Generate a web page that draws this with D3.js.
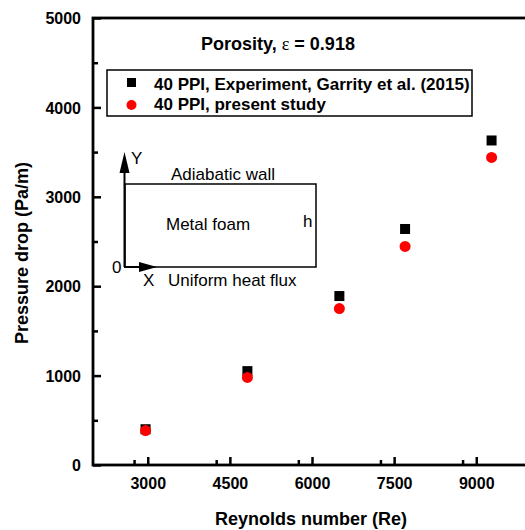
<!DOCTYPE html>
<html>
<head>
<meta charset="utf-8">
<script src="https://cdn.jsdelivr.net/npm/d3@7"></script>
<style>
  body { margin: 0; background: #fff; }
  text { font-family: "Liberation Sans", Arial, sans-serif; }
</style>
</head>
<body>
<div id="chart"></div>
<script>
// data
let reynolds = [2960, 4820, 6500, 7700, 9280];
let experiment = [400, 1050, 1890, 2640, 3630];
let present = [385, 980, 1750, 2445, 3440];
let xTicks = [3000, 4500, 6000, 7500, 9000];
let yTicks = [0, 1000, 2000, 3000, 4000, 5000];
let seriesNames = ["40 PPI, Experiment, Garrity et al. (2015)", "40 PPI, present study"];

let width = 525, height = 530;
let plotLeft = 93, plotTop = 18, plotRight = 531, plotBottom = 465;

var svg = d3.select("#chart").append("svg")
    .attr("width", width)
    .attr("height", height);

let x = d3.scaleLinear().domain([2000, 10000]).range([plotLeft, plotRight]);
let y = d3.scaleLinear().domain([0, 5000]).range([plotBottom, plotTop]);

// frame
svg.append("rect")
    .attr("x", plotLeft).attr("y", plotTop)
    .attr("width", plotRight - plotLeft).attr("height", plotBottom - plotTop)
    .attr("fill", "none").attr("stroke", "black").attr("stroke-width", 2.8);

// axes, ticks pointing inward
let xAxis = svg.append("g")
    .attr("transform", "translate(0," + plotBottom + ")")
    .call(d3.axisBottom(x).tickValues(xTicks).tickSize(-8).tickFormat(d3.format("d")));
let xMinor = svg.append("g")
    .attr("transform", "translate(0," + plotBottom + ")")
    .call(d3.axisBottom(x).tickValues(d3.range(2750, 10000, 1500)).tickSize(-5).tickFormat(""));
let yAxis = svg.append("g")
    .attr("transform", "translate(" + plotLeft + ",0)")
    .call(d3.axisLeft(y).tickValues(yTicks).tickSize(-8).tickFormat(d3.format("d")));
let yMinor = svg.append("g")
    .attr("transform", "translate(" + plotLeft + ",0)")
    .call(d3.axisLeft(y).tickValues(d3.range(500, 5000, 1000)).tickSize(-5).tickFormat(""));

[xAxis, xMinor, yAxis, yMinor].forEach(function (g) {
    g.select(".domain").remove();
    g.selectAll(".tick line").attr("stroke", "black").attr("stroke-width", 2.5);
    g.selectAll(".tick text")
        .attr("fill", "black")
        .style("font-size", "16px")
        .style("font-weight", "bold")
        .style("font-family", "Liberation Sans, Arial, sans-serif");
});
xAxis.selectAll(".tick text").attr("y", 24).attr("dy", 0);
yAxis.selectAll(".tick text").attr("x", -12).attr("dy", "0.36em");

// axis titles
svg.append("text")
    .attr("x", 311).attr("y", 525)
    .attr("text-anchor", "middle")
    .style("font-size", "18px").style("font-weight", "bold")
    .text("Reynolds number (Re)");
svg.append("text")
    .attr("transform", "translate(28,253) rotate(-90)")
    .attr("text-anchor", "middle")
    .style("font-size", "18px").style("font-weight", "bold")
    .text("Pressure drop (Pa/m)");

// title inside plot, epsilon in a serif face like the original
let title = svg.append("text")
    .attr("x", 278).attr("y", 50)
    .attr("text-anchor", "middle")
    .style("font-size", "18px").style("font-weight", "bold");
title.append("tspan").text("Porosity, ");
title.append("tspan")
    .style("font-family", "Liberation Serif, serif")
    .style("font-weight", "normal")
    .text("\u03b5");
title.append("tspan").text(" = 0.918");

// legend
svg.append("rect")
    .attr("x", 107).attr("y", 70).attr("width", 365).attr("height", 46)
    .attr("fill", "white").attr("stroke", "black").attr("stroke-width", 1.5);
svg.append("rect")
    .attr("x", 127).attr("y", 78).attr("width", 9).attr("height", 9)
    .attr("fill", "black");
svg.append("circle")
    .attr("cx", 131.5).attr("cy", 105).attr("r", 5)
    .attr("fill", "red");
seriesNames.forEach(function (name, i) {
    svg.append("text")
        .attr("x", 154).attr("y", 90 + i * 20)
        .style("font-size", "17px").style("font-weight", "bold")
        .text(name);
});

// inset sketch
let inset = svg.append("g");
inset.append("rect")
    .attr("x", 125).attr("y", 184).attr("width", 191).attr("height", 83)
    .attr("fill", "none").attr("stroke", "black").attr("stroke-width", 1.5);
inset.append("line")
    .attr("x1", 124.5).attr("y1", 267).attr("x2", 124.5).attr("y2", 168)
    .attr("stroke", "black").attr("stroke-width", 2);
inset.append("path")
    .attr("d", "M124.5,152 L119.5,173 L129.5,173 Z").attr("fill", "black");
inset.append("line")
    .attr("x1", 124).attr("y1", 267).attr("x2", 145).attr("y2", 267)
    .attr("stroke", "black").attr("stroke-width", 2);
inset.append("path")
    .attr("d", "M157,267 L139,262 L139,272 Z").attr("fill", "black");
let insetLabels = [
    ["Y", 131, 164], ["Adiabatic wall", 171, 180], ["Metal foam", 166, 230],
    ["h", 303, 227], ["0", 112, 273], ["X", 143, 286], ["Uniform heat flux", 168, 286]
];
insetLabels.forEach(function (d) {
    inset.append("text")
        .attr("x", d[1]).attr("y", d[2])
        .style("font-size", "17px")
        .text(d[0]);
});

// data points
svg.selectAll(".exp")
    .data(reynolds)
    .enter()
    .append("rect")
    .attr("class", "exp")
    .attr("x", function (d) { return x(d) - 5; })
    .attr("y", function (d, i) { return y(experiment[i]) - 5; })
    .attr("width", 10).attr("height", 10)
    .attr("fill", "black");
svg.selectAll(".present")
    .data(reynolds)
    .enter()
    .append("circle")
    .attr("class", "present")
    .attr("cx", function (d) { return x(d); })
    .attr("cy", function (d, i) { return y(present[i]); })
    .attr("r", 5.5)
    .attr("fill", "red");
</script>
</body>
</html>
